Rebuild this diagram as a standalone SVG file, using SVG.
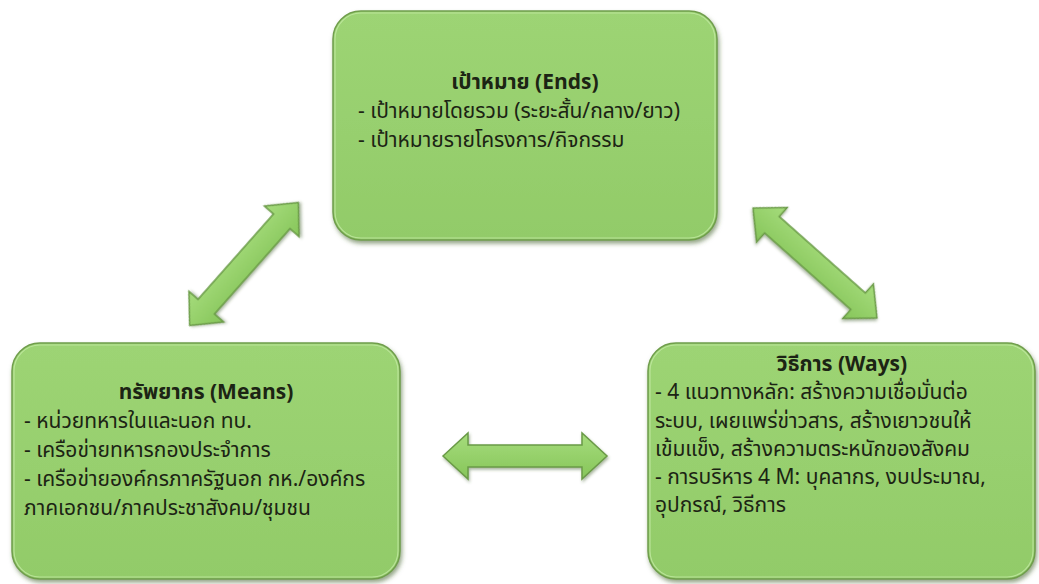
<svg xmlns="http://www.w3.org/2000/svg" width="1039" height="584" viewBox="0 0 1039 584">
  <style>
    .box { fill: url(#boxGrad); stroke: #6f9d4c; stroke-width: 1.5; filter: url(#shadow); }
    .hl { fill: none; stroke: #c2e8a3; stroke-width: 1.2; opacity: 0.8; }
    .t { font-family: "Noto Sans Thai", "Tahoma", "Leelawadee UI", "Noto Sans", "DejaVu Sans", sans-serif; font-size: 21px; fill: #1c2414; }
    .title { font-weight: bold; text-anchor: middle; font-size: 21px; }
    .arrow { fill: url(#arrGrad); stroke: #6a9a47; stroke-width: 1.5; filter: url(#ashadow); }
  </style>
  <defs>
    <linearGradient id="boxGrad" x1="0" y1="0" x2="0" y2="1">
      <stop offset="0" stop-color="#9dd474"/>
      <stop offset="1" stop-color="#92cb69"/>
    </linearGradient>
    <linearGradient id="arrGrad" x1="0" y1="0" x2="0" y2="1">
      <stop offset="0" stop-color="#a6dc7c"/>
      <stop offset="1" stop-color="#86c55a"/>
    </linearGradient>
    <filter id="shadow" x="-10%" y="-10%" width="120%" height="130%">
      <feDropShadow dx="1.5" dy="3" stdDeviation="2" flood-color="#3f5e2a" flood-opacity="0.55"/>
    </filter>
    <filter id="ashadow" x="-20%" y="-40%" width="140%" height="180%">
      <feDropShadow dx="1" dy="2" stdDeviation="1.5" flood-color="#3f5e2a" flood-opacity="0.45"/>
    </filter>
    <polygon id="dblArrow" points="-82,0 -57,-23 -57,-11 57,-11 57,-23 82,0 57,23 57,11 -57,11 -57,23"/>
  </defs>

  <rect width="1039" height="584" fill="#ffffff"/>

  <g id="connectors">
    <use href="#dblArrow" class="arrow" transform="translate(244,264) rotate(-48.5)"/>
    <use href="#dblArrow" class="arrow" transform="translate(815,263) rotate(41.6) scale(1.01,1)"/>
    <use href="#dblArrow" class="arrow" transform="translate(525,456)"/>
  </g>

  <g id="node-ends">
    <rect class="box" x="333" y="11" width="384" height="229" rx="28"/>
    <rect class="hl" x="335" y="13" width="380" height="225" rx="26"/>
    <text class="t title" x="525" y="89">เป้าหมาย (Ends)</text>
    <text class="t" x="358" y="118">- เป้าหมายโดยรวม (ระยะสั้น/กลาง/ยาว)</text>
    <text class="t" x="358" y="147">- เป้าหมายรายโครงการ/กิจกรรม</text>
  </g>

  <g id="node-means">
    <rect class="box" x="12" y="343" width="388" height="236" rx="28"/>
    <rect class="hl" x="14" y="345" width="384" height="232" rx="26"/>
    <text class="t title" x="206" y="399">ทรัพยากร (Means)</text>
    <text class="t" x="24" y="428">- หน่วยทหารในและนอก ทบ.</text>
    <text class="t" x="24" y="457">- เครือข่ายทหารกองประจำการ</text>
    <text class="t" x="24" y="486">- เครือข่ายองค์กรภาครัฐนอก กห./องค์กร</text>
    <text class="t" x="24" y="515">ภาคเอกชน/ภาคประชาสังคม/ชุมชน</text>
  </g>

  <g id="node-ways">
    <rect class="box" x="648" y="343" width="387" height="236" rx="28"/>
    <rect class="hl" x="650" y="345" width="383" height="232" rx="26"/>
    <text class="t title" x="842" y="371">วิธีการ (Ways)</text>
    <text class="t" x="655" y="399">- 4 แนวทางหลัก: สร้างความเชื่อมั่นต่อ</text>
    <text class="t" x="655" y="428">ระบบ, เผยแพร่ข่าวสาร, สร้างเยาวชนให้</text>
    <text class="t" x="655" y="456">เข้มแข็ง, สร้างความตระหนักของสังคม</text>
    <text class="t" x="655" y="484">- การบริหาร 4 M: บุคลากร, งบประมาณ,</text>
    <text class="t" x="655" y="512">อุปกรณ์, วิธีการ</text>
  </g>
</svg>
